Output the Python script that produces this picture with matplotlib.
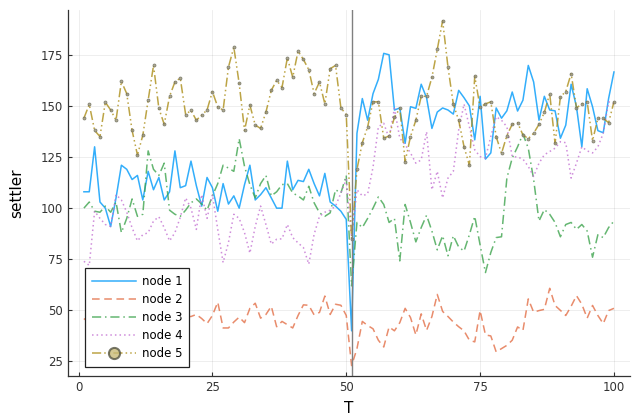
import numpy as np
import matplotlib
matplotlib.use("Agg")
import matplotlib.pyplot as plt
from matplotlib.lines import Line2D

T = list(range(1, 101))

node1 = [108, 108, 130, 103, 100, 91, 105, 121, 119, 114,
         116, 104, 118, 109, 115, 104, 108, 128, 110, 111,
         123, 111, 101, 115, 110, 98.5, 112, 102, 106, 100,
         111.5, 121, 104, 106.6, 110, 105, 100, 100, 123, 109,
         113.6, 113, 119, 112, 106, 117, 103, 101, 98.5, 94.5,
         40, 136.6, 153.6, 143, 156, 163, 175.7, 175, 148, 149,
         131.7, 149.6, 148.8, 160.6, 154, 139, 147, 149, 148, 146,
         157.6, 154, 150, 133.4, 154.7, 124, 127, 149, 144, 147.6,
         156.8, 147.5, 152.8, 169.8, 161.7, 143, 154.7, 148, 147.6, 134.2,
         140.6, 160.6, 149.6, 130, 158.4, 149.6, 137.9, 136.9, 153.6, 166.6]

node2 = [46, 44, 47, 42, 45, 49, 43, 46, 48, 44,
         41, 45, 50, 47, 43, 46, 44, 48, 45, 47,
         47, 48, 46, 43.5, 47.5, 54, 41.4, 41.4, 44.3, 46.7,
         44, 51, 53.5, 46.2, 48, 52, 42, 44.6, 43, 41.4,
         47.5, 52.7, 52.5, 47.8, 49, 57, 48, 53, 52.5, 47.5,
         23, 31.3, 44.6, 42.6, 41, 35.4, 32.1, 41.9, 40, 44,
         51, 46.5, 38, 48.3, 40.2, 47, 57.8, 49.5, 47, 44.3,
         42, 40, 35.4, 34.6, 49.9, 38, 37.5, 29.7, 31.3, 32.9,
         35.4, 41.9, 40.2, 55.6, 49.1, 49.9, 50.5, 60.8, 52.4, 50,
         47.5, 52, 57.2, 53, 46.2, 52.4, 47.5, 43.5, 49.9, 51]

node3 = [100, 103, 98.5, 98, 101, 98, 103, 88, 95, 104.5,
         96, 97, 128, 119, 116, 122, 99, 97, 96, 99,
         102.6, 104.5, 102, 99, 106, 112, 121, 119.6, 118, 134,
         120.4, 111.5, 105, 112, 116, 106, 108, 111.5, 112, 107.4,
         106, 104, 110.7, 102.6, 97.7, 96, 97.7, 109, 107.4, 116,
         62, 93, 90.5, 95, 100, 105.5, 101.8, 93, 95, 74.2,
         101.8, 93, 83.5, 90.5, 96.5, 88.8, 79.6, 86.5, 76.7, 86.5,
         81, 79, 87, 96, 82, 68.5, 78.3, 85.6, 86, 114.7,
         124.5, 130, 136.3, 129.3, 114, 93.7, 99.3, 97, 93, 86,
         92, 93, 89.6, 92, 88.8, 76, 87, 85.6, 90.5, 93.7]

node4 = [74, 72, 98.5, 95, 92, 91, 106.6, 104, 98, 90.4,
         84, 87, 88, 93.7, 95.8, 90.4, 84, 88, 95.5, 105,
         100, 89.6, 106.6, 95, 106.6, 89.6, 73.4, 83.2, 97, 95,
         88, 78, 91, 101, 92, 82.4, 84.8, 85, 92, 85.6,
         83, 80.7, 72.6, 87.2, 96, 98, 99, 101, 107.4, 114,
         85, 109, 106, 107, 120, 139.8, 141.5, 134.2, 148.8, 134.2,
         131, 127, 122, 123.6, 137.4, 109, 118, 105, 114.7, 118,
         138.2, 150.9, 139.8, 128.5, 125.2, 124.5, 135, 144.7, 143, 139.8,
         125.2, 125, 124, 120.4, 115.5, 122, 126.1, 127.7, 129.3, 132.5,
         132, 114.7, 122, 130, 128, 127, 130, 136.6, 152, 151]

node5 = [144, 150.7, 138, 135, 151.8, 148, 143, 162, 156, 138,
         126, 135.6, 152.8, 169.8, 148.8, 141, 154.7, 161.7, 163.6, 145.8,
         147.8, 143, 145.5, 148, 157, 149.5, 148, 169, 178.7, 161,
         138, 150.4, 140.6, 139, 147, 157.6, 162.5, 159, 173.5, 164,
         176.8, 172.7, 167.7, 156, 161.7, 151, 168.2, 169.8, 149, 145.8,
         85, 119, 132, 139.8, 152, 152, 134.2, 135.3, 144.4, 148.8,
         122.8, 135, 143, 154.7, 154.7, 164, 177.6, 191.7, 169, 150.8,
         143, 130, 121, 164.5, 149.3, 151, 152, 135, 126.8, 135.5,
         141, 141.8, 135.8, 134, 136.6, 141, 146.8, 156, 131.7, 154.5,
         157, 165.8, 149, 151, 152, 133, 143.9, 143.9, 141.8, 152]

labels = ["node 1", "node 2", "node 3", "node 4", "node 5"]
vline_T = 51

colors = ["#009AFA", "#E36F47", "#3EA44E", "#C371D2", "#AC8E18"]
styles = ["-", (0, (5, 3)), (0, (6, 2.5, 1, 2.5)), (0, (1, 2)), (0, (6, 2, 1, 2, 1, 2))]

fig = plt.figure(figsize=(6.32, 4.19), dpi=100)
ax = fig.add_axes([0.1076, 0.1026, 0.889, 0.873])

series = [node1, node2, node3, node4, node5]
for i, (s, lab) in enumerate(zip(series, labels)):
    if i < 4:
        ax.plot(T, s, color=colors[i], linestyle=styles[i], lw=1.1, alpha=0.8, label=lab)
    else:
        ax.plot(T, s, color=colors[i], linestyle=styles[i], lw=1.1, alpha=0.8,
                marker="o", markersize=2.2, markerfacecolor="#9a9478",
                markeredgecolor="#666655", markeredgewidth=0.5, label=lab)

ax.axvline(vline_T, color="#808080", lw=1.0)

ax.set_xlim(-1.97, 102.97)
ax.set_ylim(17.9, 196.8)
ax.set_xticks([0, 25, 50, 75, 100])
ax.set_yticks([25, 50, 75, 100, 125, 150, 175])
ax.tick_params(direction="in", length=3, labelsize=8.5, colors="#333333", width=0.8)
ax.grid(True, color="#000000", alpha=0.08, lw=0.6)
for sp in ["top", "right"]:
    ax.spines[sp].set_visible(False)
for sp in ["left", "bottom"]:
    ax.spines[sp].set_color("#333333")
    ax.spines[sp].set_linewidth(0.9)

ax.set_xlabel("T", fontsize=11, labelpad=5)
ax.set_ylabel("settler", fontsize=11, labelpad=12)

handles = []
for i in range(4):
    handles.append(Line2D([], [], color=colors[i], linestyle=styles[i], lw=1.1, alpha=0.8))
handles.append(Line2D([], [], color=colors[4], linestyle=styles[4], lw=1.1, alpha=0.8,
                      marker="o", markersize=8, markerfacecolor="#c8bb78",
                      markeredgecolor="#555544", markeredgewidth=1.5))
leg = ax.legend(handles, labels, loc="lower left", bbox_to_anchor=(0.03, 0.025),
                borderaxespad=0, fancybox=False, fontsize=8.5, handlelength=3.7,
                labelspacing=0.42, handletextpad=0.5, borderpad=0.6, framealpha=1)
leg.get_frame().set_edgecolor("#222222")
leg.get_frame().set_linewidth(0.9)

fig.savefig("out.png", dpi=100)
